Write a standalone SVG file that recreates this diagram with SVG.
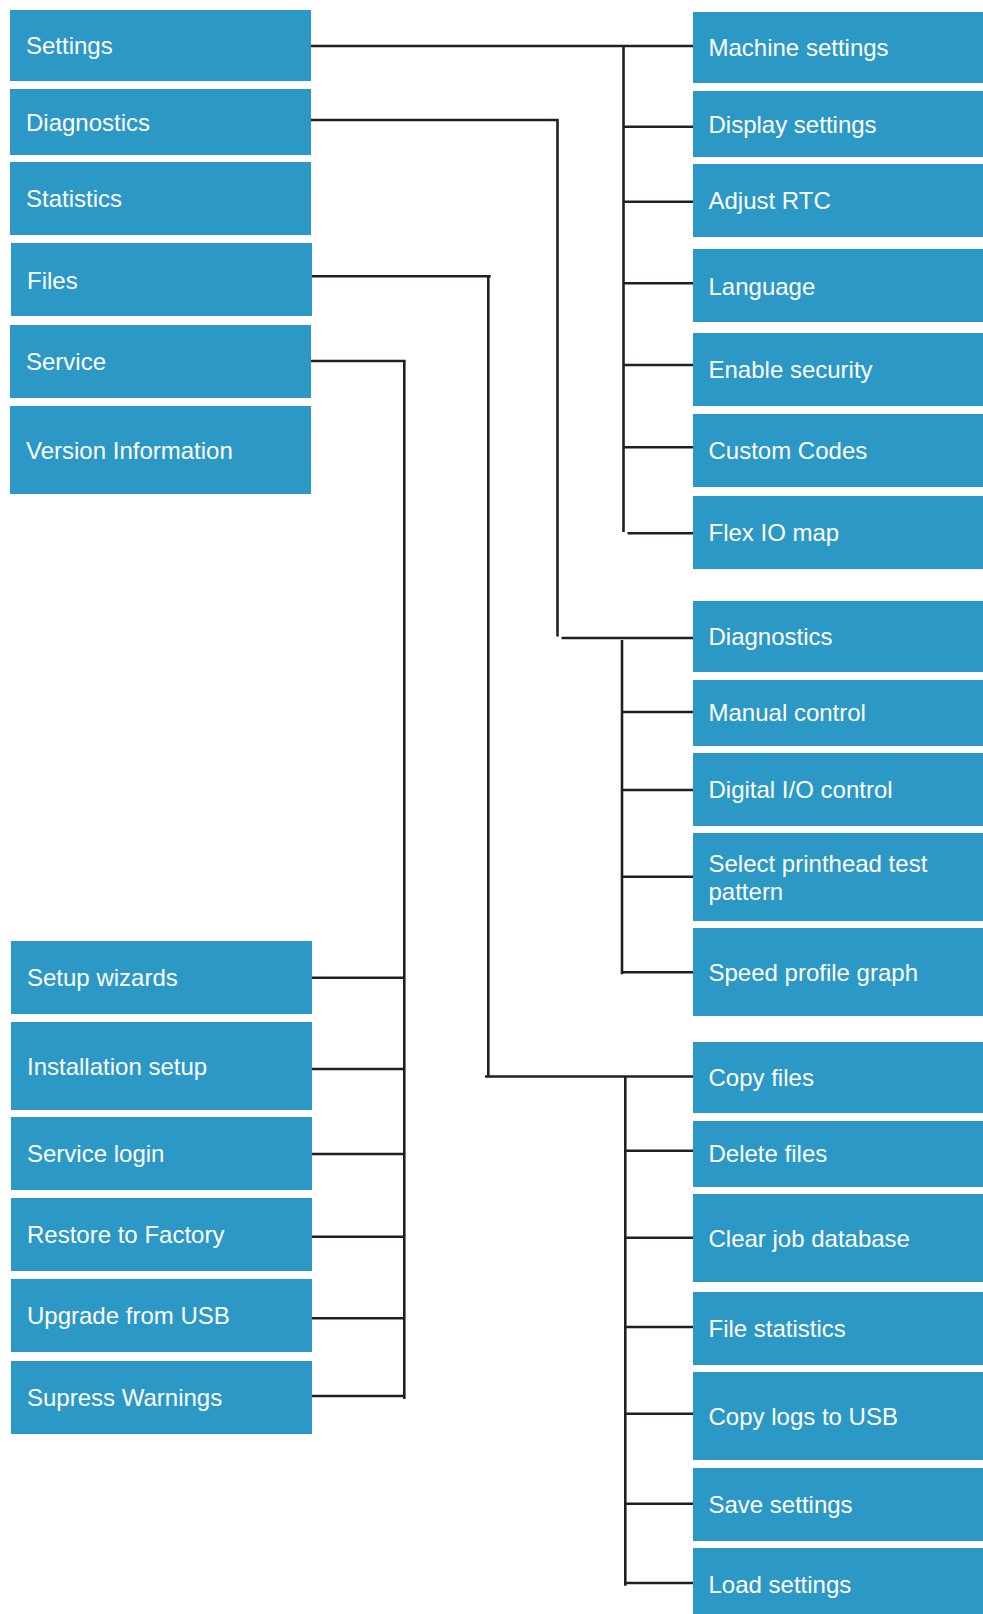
<svg xmlns="http://www.w3.org/2000/svg" width="983" height="1614" viewBox="0 0 983 1614">
<style>
.box{fill:#2b98c5}
.t{font-family:"Liberation Sans",Arial,Helvetica,sans-serif;font-size:24px;fill:#ffffff}
.c{fill:none;stroke:#231f20;stroke-width:2.6}
</style>
<rect width="983" height="1614" fill="#ffffff"/>
<g id="connectors" class="c">
<path d="M311,46 H693 M623.5,46 V532 M623.5,126.7 H693 M623.5,201.7 H693 M623.5,283.3 H693 M623.5,365 H693 M623.5,447.3 H693 M627.5,533.3 H693"/>
<path d="M311,120 H558.8 M557.5,120 V636.5 M561.5,638 H693 M622,640 V974.3 M622,712 H693 M622,790 H693 M622,876.7 H693 M622,972.3 H693"/>
<path d="M312,276.3 H490.7 M488.3,276.3 V1077.7 M485,1076.5 H693 M625.3,1076.5 V1585.7 M625.3,1150.7 H693 M625.3,1237.7 H693 M625.3,1327 H693 M625.3,1413.7 H693 M625.3,1503.7 H693 M625.3,1583 H693"/>
<path d="M311,361 H405.7 M404.3,361 V1399 M312,977.7 H404.3 M312,1069 H404.3 M312,1154 H404.3 M312,1236.7 H404.3 M312,1318.3 H404.3 M312,1396 H404.3"/>
</g>
<g id="settings"><rect class="box" x="10" y="10" width="301" height="71"/><text class="t" x="26" y="54">Settings</text></g>
<g id="diagnostics"><rect class="box" x="10" y="89" width="301" height="66"/><text class="t" x="26" y="130.5">Diagnostics</text></g>
<g id="statistics"><rect class="box" x="10" y="162" width="301" height="73"/><text class="t" x="26" y="207">Statistics</text></g>
<g id="files"><rect class="box" x="11" y="243" width="301" height="73"/><text class="t" x="27" y="289">Files</text></g>
<g id="service"><rect class="box" x="10" y="325" width="301" height="73"/><text class="t" x="26" y="370">Service</text></g>
<g id="version-information"><rect class="box" x="10" y="406" width="301" height="88"/><text class="t" x="26" y="458.5">Version Information</text></g>
<g id="setup-wizards"><rect class="box" x="11" y="941" width="301" height="73"/><text class="t" x="27" y="986">Setup wizards</text></g>
<g id="installation-setup"><rect class="box" x="11" y="1022" width="301" height="88"/><text class="t" x="27" y="1074.5">Installation setup</text></g>
<g id="service-login"><rect class="box" x="11" y="1117" width="301" height="73"/><text class="t" x="27" y="1162">Service login</text></g>
<g id="restore-to-factory"><rect class="box" x="11" y="1198" width="301" height="73"/><text class="t" x="27" y="1243">Restore to Factory</text></g>
<g id="upgrade-from-usb"><rect class="box" x="11" y="1279" width="301" height="73"/><text class="t" x="27" y="1324">Upgrade from USB</text></g>
<g id="supress-warnings"><rect class="box" x="11" y="1361" width="301" height="73"/><text class="t" x="27" y="1406">Supress Warnings</text></g>
<g id="machine-settings"><rect class="box" x="693" y="12" width="290" height="71"/><text class="t" x="708.5" y="56">Machine settings</text></g>
<g id="display-settings"><rect class="box" x="693" y="91" width="290" height="66"/><text class="t" x="708.5" y="132.5">Display settings</text></g>
<g id="adjust-rtc"><rect class="box" x="693" y="164" width="290" height="73"/><text class="t" x="708.5" y="209">Adjust RTC</text></g>
<g id="language"><rect class="box" x="693" y="249" width="290" height="73"/><text class="t" x="708.5" y="294.5">Language</text></g>
<g id="enable-security"><rect class="box" x="693" y="333" width="290" height="73"/><text class="t" x="708.5" y="378">Enable security</text></g>
<g id="custom-codes"><rect class="box" x="693" y="414" width="290" height="73"/><text class="t" x="708.5" y="459">Custom Codes</text></g>
<g id="flex-io-map"><rect class="box" x="693" y="496" width="290" height="73"/><text class="t" x="708.5" y="541">Flex IO map</text></g>
<g id="diagnostics-sub"><rect class="box" x="693" y="601" width="290" height="71"/><text class="t" x="708.5" y="645">Diagnostics</text></g>
<g id="manual-control"><rect class="box" x="693" y="680" width="290" height="66"/><text class="t" x="708.5" y="721">Manual control</text></g>
<g id="digital-io-control"><rect class="box" x="693" y="753" width="290" height="73"/><text class="t" x="708.5" y="798">Digital I/O control</text></g>
<g id="select-printhead-test-pattern"><rect class="box" x="693" y="833" width="290" height="88"/><text class="t" x="708.5" y="871.5">Select printhead test</text><text class="t" x="708.5" y="900">pattern</text></g>
<g id="speed-profile-graph"><rect class="box" x="693" y="928" width="290" height="88"/><text class="t" x="708.5" y="980.5">Speed profile graph</text></g>
<g id="copy-files"><rect class="box" x="693" y="1042" width="290" height="71"/><text class="t" x="708.5" y="1086">Copy files</text></g>
<g id="delete-files"><rect class="box" x="693" y="1121" width="290" height="66"/><text class="t" x="708.5" y="1162">Delete files</text></g>
<g id="clear-job-database"><rect class="box" x="693" y="1194" width="290" height="88"/><text class="t" x="708.5" y="1246.5">Clear job database</text></g>
<g id="file-statistics"><rect class="box" x="693" y="1292" width="290" height="73"/><text class="t" x="708.5" y="1337">File statistics</text></g>
<g id="copy-logs-to-usb"><rect class="box" x="693" y="1372" width="290" height="88"/><text class="t" x="708.5" y="1424.5">Copy logs to USB</text></g>
<g id="save-settings"><rect class="box" x="693" y="1468" width="290" height="73"/><text class="t" x="708.5" y="1513">Save settings</text></g>
<g id="load-settings"><rect class="box" x="693" y="1548" width="290" height="66"/><text class="t" x="708.5" y="1592.5">Load settings</text></g>
</svg>
